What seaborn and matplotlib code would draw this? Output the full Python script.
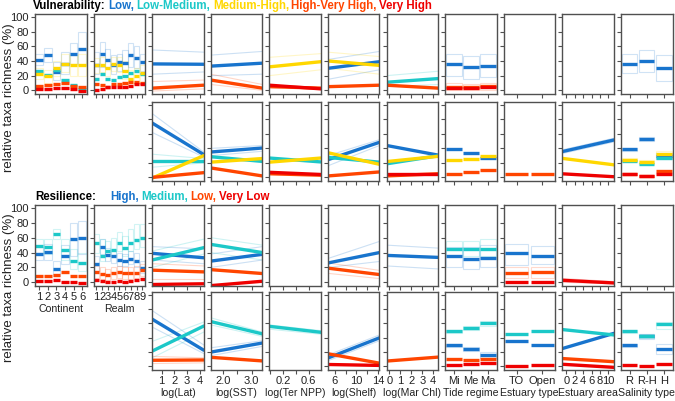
import numpy as np
import pandas as pd
import matplotlib
matplotlib.use("Agg")
import matplotlib.pyplot as plt
from matplotlib.patches import Rectangle
import seaborn as sns

sns.set_theme(style="ticks")
plt.rcParams['font.family'] = ['Liberation Sans', 'DejaVu Sans']

# colours of the classes
BLUE, CYAN, GOLD, ORANGE, RED = "#1874CD", "#1CC8C8", "#FFD700", "#FF4500", "#EE0000"
COLORS = {'L': BLUE, 'LM': CYAN, 'MH': GOLD, 'HVH': ORANGE, 'VH': RED,
          'H': BLUE, 'M': CYAN, 'Lo': ORANGE, 'VL': RED}
ORDER = ['L', 'H', 'LM', 'M', 'MH', 'HVH', 'Lo', 'VH', 'VL']

# predictor axes
CONT_LABELS = ['1', '2', '3', '4', '5', '6']
REALM_LABELS = ['1', '2', '3', '4', '5', '6', '7', '8', '9']
TIDE_LABELS = ['Mi', 'Me', 'Ma']
ESTTYPE_LABELS = ['TO', 'Open']
SAL_LABELS = ['R', 'R-H', 'H']
LAT_RANGE = [0.25, 4.33]
LAT_TICKS, LAT_TL = [1, 2, 3, 4], ['1', '2', '3', '4']
SST_RANGE = [1.59, 3.37]
SST_TICKS, SST_TL = [2.0, 2.5, 3.0], ['2.0', '', '3.0']
NPP_RANGE = [-0.01, 0.79]
NPP_TICKS, NPP_TL = [0.0, 0.2, 0.4, 0.6], ['', '0.2', '', '0.6']
SHELF_RANGE = [4.8, 14.2]
SHELF_TICKS, SHELF_TL = [6, 8, 10, 12, 14], ['6', '', '10', '', '14']
CHL_RANGE = [-0.25, 4.45]
CHL_TICKS, CHL_TL = [0, 1, 2, 3, 4], ['0', '1', '2', '3', '4']
AREA_RANGE = [-0.9, 11.3]
AREA_TICKS, AREA_TL = [0, 2, 4, 6, 8, 10], ['0', '2', '4', '6', '8', '10']

# ---- Vulnerability, upper row ----
v1_cont = {'L': [42, 48, 25, 36, 50, 56.5], 'LM': [27, 21.5, 28, 14, 7.5, 2],
           'MH': [22.5, 19, 30, 36, 34, 34], 'HVH': [6, 7.5, 9, 10, 6, 4],
           'VH': [2, 2, 3, 3, 2, -0.5]}
v1_cont_ci = {'L': ([34, 38, 14, 22, 36, 34], [50, 58, 38, 52, 65, 79]),
              'MH': ([15, 10, 20, 25, 20, 20], [30, 28, 40, 50, 48, 50])}
v1_realm = {'L': [35, 50, 42, 34, 38, 37, 47.5, 43.5, 38.5],
            'LM': [16, 22, 15, 14, 18, 20, 24, 26, 22],
            'MH': [34, 35, 30, 36, 35, 27, 16, 19, 23],
            'HVH': [8, 7, 5, 9, 8, 10, 12, 12, 10],
            'VH': [1, 2, 4, 5, 5, 5, 6, 8, 8]}
v1_realm_ci = {'L': ([22, 32, 30, 22, 26, 26, 32, 30, 26], [52, 66, 56, 48, 50, 55, 65, 60, 50]),
               'MH': ([24, 25, 20, 26, 25, 15, 6, 8, 12], [44, 46, 40, 46, 45, 40, 28, 30, 34])}
v1_lat = {'L': [36, 35.5], 'HVH': [3, 7]}
v1_lat_ci = {'L': ([22, 25], [55, 52]), 'HVH': ([-1, 2], [12, 14])}
v1_sst = {'L': [33, 37], 'HVH': [14, 3]}
v1_sst_ci = {'L': ([20, 22], [48, 53]), 'HVH': ([8, 0], [22, 8])}
v1_npp = {'MH': [32, 39], 'HVH': [5, 3], 'VH': [7, 2]}
v1_npp_ci = {'MH': ([20, 28], [45, 50])}
v1_shelf = {'L': [30, 39], 'MH': [40, 34], 'HVH': [5, 7]}
v1_shelf_ci = {'L': ([15, 28], [42, 53]), 'MH': ([30, 22], [52, 46])}
v1_chl = {'LM': [11, 16], 'HVH': [7, 3]}
v1_chl_ci = {'LM': ([5, 8], [20, 26])}
v1_tide = {'L': [35.3, 31.2, 33.5], 'HVH': [5, 5, 6], 'VH': [3, 3, 4]}
v1_tide_ci = {'L': ([20, 16, 18.5], [50, 47, 50]), 'HVH': ([0, 0, 0], [10, 9, 10])}
v1_esttype = {}
v1_area = {}
v1_sal = {'L': [35.3, 40.3, 30]}
v1_sal_ci = {'L': ([24, 25, 13], [50, 55.6, 47.5])}

# ---- Vulnerability, lower row ----
v2_lat = {'L': [75, 31.5], 'LM': [23, 23], 'MH': [-1, 30], 'HVH': [0, 6.5]}
v2_lat_ci = {'L': ([62, 28], [88, 35]), 'LM': ([14, 20], [32, 26])}
v2_sst = {'L': [35, 40.5], 'LM': [28.5, 22], 'MH': [21, 26], 'HVH': [13, 2]}
v2_sst_ci = {'L': ([30, 36], [40, 44])}
v2_npp = {'LM': [26.7, 21.3], 'MH': [21, 26.7], 'HVH': [5, 3], 'VH': [7, 4]}
v2_shelf = {'L': [24.4, 48.4], 'LM': [27.5, 21], 'MH': [34, 18], 'HVH': [2, 7.5]}
v2_shelf_ci = {'L': ([16, 44], [30, 52])}
v2_chl = {'L': [44, 30.7], 'LM': [18.7, 29.8], 'MH': [21.8, 29], 'HVH': [2, 5], 'VH': [4, 4]}
v2_tide = {'L': [38.7, 33.3, 26.2], 'MH': [24.4, 25.8, 29.8], 'HVH': [5.3, 7.1, 10.7]}
v2_esttype = {'HVH': [4, 5.3]}
v2_area = {'L': [35.6, 51.6], 'MH': [26.2, 17.3], 'VH': [4.9, 0.9]}
v2_area_ci = {'L': ([33, 49], [38, 54])}
v2_sal = {'L': [38.7, 53.3, 29.8], 'LM': [22.7, 18.7, 26.2], 'MH': [24.4, 21.3, 32.9],
          'HVH': [5.3, 2.2, 8.4], 'VH': [4, 2, 4]}
v2_sal_ci = {'L': ([36, 50, 26], [41, 56, 33]), 'MH': ([22, 19, 28], [27, 24, 36])}

# ---- Resilience, upper row ----
r1_cont = {'H': [38.5, 41, 17.5, 35.4, 58.7, 60], 'M': [49, 48, 65, 44, 29, 26.5],
           'Lo': [8.5, 8.5, 10, 14, 8.5, 8.5], 'VL': [2, 1.8, 3.6, 1, 0, -1.5]}
r1_cont_ci = {'H': ([30, 30, 8, 25, 35, 38], [48, 52, 28, 50, 80, 82]),
              'M': ([40, 38, 58, 30, 18, 15], [58, 58, 72, 58, 45, 40])}
r1_realm = {'H': [24.5, 48, 37, 35, 30, 29, 32, 29, 19.5],
            'M': [52.5, 36, 42, 44, 53, 45.5, 53, 56.5, 59],
            'Lo': [14, 11, 10, 12, 14, 12, 12, 13, 16],
            'VL': [3, 2, 1, 1, 2, 1, 2, 3, 5]}
r1_realm_ci = {'H': ([15, 38, 28, 26, 22, 22, 24, 20, 12], [35, 58, 46, 44, 40, 38, 42, 40, 28]),
               'M': ([40, 28, 35, 35, 42, 35, 42, 45, 48], [65, 58, 55, 60, 68, 62, 72, 78, 78]),
               'Lo': ([6, 4, 3, 5, 6, 5, 5, 6, 8], [22, 20, 18, 20, 22, 20, 20, 22, 24])}
r1_lat = {'H': [39, 33], 'M': [30, 46.6], 'Lo': [16.3, 14], 'VL': [-3, -2]}
r1_lat_ci = {'M': ([20, 38], [42, 58]), 'H': ([30, 25], [48, 45]), 'Lo': ([5, 5], [25, 22])}
r1_sst = {'H': [28.5, 37.6], 'M': [51, 40], 'Lo': [17, 11.8], 'VL': [-4.5, 1.4]}
r1_sst_ci = {'H': ([20, 30], [38, 48]), 'M': ([40, 30], [60, 50])}
r1_npp = {}
r1_shelf = {'H': [26, 40], 'Lo': [19, 10.4]}
r1_shelf_ci = {'H': ([20, 28], [32, 55]), 'Lo': ([12, 5], [26, 16])}
r1_chl = {'H': [36.2, 33.5]}
r1_chl_ci = {'H': ([22, 18], [50, 46])}
r1_tide = {'H': [35.7, 31.7, 32.6], 'M': [44.3, 44.3, 44.3]}
r1_tide_ci = {'H': ([20, 18, 20], [48, 48, 50]), 'M': ([36, 36, 36], [56, 56, 58])}
r1_esttype = {'H': [39, 34.8], 'Lo': [13, 13.8], 'VL': [0, 0.9]}
r1_esttype_ci = {'H': ([22.6, 24], [52, 49]), 'Lo': ([6, 6], [20, 21])}
r1_area = {'VL': [2.7, -0.9]}
r1_area_ci = {'VL': ([0, -2], [5, 1])}
r1_sal = {}

# ---- Resilience, lower row ----
r2_lat = {'H': [66, 22.7], 'M': [21.4, 56.4], 'Lo': [8.6, 9]}
r2_lat_ci = {'H': ([55, 18], [78, 30]), 'M': ([12, 48], [35, 62]), 'Lo': ([4, 5], [14, 12])}
r2_sst = {'H': [20, 32.7], 'M': [62.7, 45.5], 'Lo': [12.7, 7.7]}
r2_sst_ci = {'M': ([58, 42], [68, 48]), 'H': ([15, 28], [26, 36])}
r2_npp = {'M': [56, 47.7]}
r2_npp_ci = {'M': ([52, 45], [58, 50])}
r2_shelf = {'H': [11.8, 40], 'Lo': [17.7, 4.5], 'VL': [2.7, 1.4]}
r2_shelf_ci = {'H': ([8, 36], [16, 44])}
r2_chl = {'Lo': [7.5, 13]}
r2_tide = {'H': [29.5, 24.2, 16.3], 'M': [49, 53.7, 60.3], 'Lo': [10.6, 8.8, 10.6], 'VL': [2.2, 4, 5.3]}
r2_tide_ci = {'M': ([47, 51, 57], [51, 56, 63]), 'H': ([27, 22, 12], [32, 27, 20])}
r2_esttype = {'H': [35.2, 29.5], 'M': [45, 49.8], 'VL': [0.9, 1.3]}
r2_area = {'H': [25, 46.2], 'M': [51.5, 44], 'Lo': [11, 6.6], 'VL': [3, -1.3]}
r2_sal = {'H': [29.5, 41.9, 25], 'M': [49, 43, 59.4], 'VL': [2.2, 0.9, 4]}
r2_sal_ci = {'M': ([47, 40, 52], [51, 46, 62]), 'H': ([27, 39, 18], [32, 45, 32])}

# column definitions: (kind, ticks or labels, tick labels, range, xlabel)
COLUMNS = [
    ('cat', CONT_LABELS, None, None, 'Continent'),
    ('cat', REALM_LABELS, None, None, 'Realm'),
    ('num', LAT_TICKS, LAT_TL, LAT_RANGE, 'log(Lat)'),
    ('num', SST_TICKS, SST_TL, SST_RANGE, 'log(SST)'),
    ('num', NPP_TICKS, NPP_TL, NPP_RANGE, 'log(Ter NPP)'),
    ('num', SHELF_TICKS, SHELF_TL, SHELF_RANGE, 'log(Shelf)'),
    ('num', CHL_TICKS, CHL_TL, CHL_RANGE, 'log(Mar Chl)'),
    ('cat', TIDE_LABELS, None, None, 'Tide regime'),
    ('cat', ESTTYPE_LABELS, None, None, 'Estuary type'),
    ('num', AREA_TICKS, AREA_TL, AREA_RANGE, 'Estuary area'),
    ('cat', SAL_LABELS, None, None, 'Salinity type'),
]

ROW_DATA = [
    [(v1_cont, v1_cont_ci), (v1_realm, v1_realm_ci), (v1_lat, v1_lat_ci), (v1_sst, v1_sst_ci),
     (v1_npp, v1_npp_ci), (v1_shelf, v1_shelf_ci), (v1_chl, v1_chl_ci), (v1_tide, v1_tide_ci),
     (v1_esttype, {}), (v1_area, {}), (v1_sal, v1_sal_ci)],
    [None, None, (v2_lat, v2_lat_ci), (v2_sst, v2_sst_ci), (v2_npp, {}), (v2_shelf, v2_shelf_ci),
     (v2_chl, {}), (v2_tide, {}), (v2_esttype, {}), (v2_area, v2_area_ci), (v2_sal, v2_sal_ci)],
    [(r1_cont, r1_cont_ci), (r1_realm, r1_realm_ci), (r1_lat, r1_lat_ci), (r1_sst, r1_sst_ci),
     (r1_npp, {}), (r1_shelf, r1_shelf_ci), (r1_chl, r1_chl_ci), (r1_tide, r1_tide_ci),
     (r1_esttype, r1_esttype_ci), (r1_area, r1_area_ci), (r1_sal, {})],
    [None, None, (r2_lat, r2_lat_ci), (r2_sst, r2_sst_ci), (r2_npp, r2_npp_ci), (r2_shelf, r2_shelf_ci),
     (r2_chl, {}), (r2_tide, r2_tide_ci), (r2_esttype, {}), (r2_area, {}), (r2_sal, r2_sal_ci)],
]

W, H = 675, 401
fig = plt.figure(figsize=(W / 100, H / 100), dpi=100)
ROWS_PX = [(14, 94), (102, 181), (205, 286), (292, 370)]
LEFT0, STEP, PW = 35, 58.6, 51.5
FRAME = "#505050"


def draw_panel(ax, col, means, cis):
    kind, ticks, tls, rng, _ = col
    if kind == 'cat':
        pos = np.arange(1, len(ticks) + 1)
        for k in ORDER:
            if k in cis:
                lo, hi = cis[k]
                for p, a, b in zip(pos, lo, hi):
                    ax.add_patch(Rectangle((p - 0.45, a), 0.9, b - a, fill=False,
                                           ec=COLORS[k], alpha=0.2, lw=0.8))
        for k in ORDER:
            if k in means:
                ax.hlines(means[k], pos - 0.45, pos + 0.45, color=COLORS[k], lw=2.4)
        ax.set_xlim(0.5, len(ticks) + 0.5)
        ax.set_xticks(pos)
        ax.set_xticklabels(ticks)
    else:
        for k in ORDER:
            if k in cis:
                for b in cis[k]:
                    sns.lineplot(x=rng, y=b, color=COLORS[k], alpha=0.22, lw=0.8, ax=ax)
        for k in ORDER:
            if k in means:
                sns.lineplot(x=rng, y=means[k], color=COLORS[k], lw=2.4, ax=ax)
        ax.set_xlim(rng)
        ax.set_xticks(ticks)
        ax.set_xticklabels(tls)
    ax.set_xlabel('')
    ax.set_ylabel('')


for r, (top, bot) in enumerate(ROWS_PX):
    for c, col in enumerate(COLUMNS):
        d = ROW_DATA[r][c]
        if d is None:
            continue
        left = LEFT0 + STEP * c
        ax = fig.add_axes([left / W, 1 - bot / H, PW / W, (bot - top) / H])
        draw_panel(ax, col, d[0], d[1])
        ax.set_ylim(-5, 104)
        ax.set_yticks(range(0, 101, 20))
        for s in ax.spines.values():
            s.set_color(FRAME)
            s.set_linewidth(1.0)
        ax.tick_params(direction='out', length=3, width=0.8, color=FRAME,
                       labelsize=8, pad=1.5, labelcolor='#222222')
        show_y = c == 0 and r in (0, 2)
        show_x = (r == 3) or (r == 2 and c < 2)
        ax.tick_params(labelleft=show_y, labelbottom=show_x)
        if show_x:
            ax.set_xlabel(col[4], fontsize=7.6, labelpad=1, color='#222222')

# y labels
for yc in ((14 + 181) / 2, (205 + 370) / 2):
    fig.text(9 / W, 1 - yc / H, 'relative taxa richness (%)', rotation=90,
             ha='center', va='center', fontsize=9.5, color='#222222')

# multicoloured titles
renderer = fig.canvas.get_renderer()


def colored_title(pieces, x0, y, gaps):
    x = x0
    for (s, colr), g in zip(pieces, gaps):
        t = fig.text(x / W, 1 - y / H, s, color=colr, fontsize=8.3,
                     fontweight='bold', va='center', ha='left')
        bb = t.get_window_extent(renderer)
        x = bb.x1 + g


colored_title([('Vulnerability:', 'black'), ('Low,', BLUE), ('Low-Medium,', CYAN),
               ('Medium-High,', GOLD), ('High-Very High,', ORANGE), ('Very High', RED)],
              33, 6, [2.5, 2.5, 2.5, 2.5, 2.5, 0])
colored_title([('Resilience:', 'black'), ('High,', BLUE), ('Medium,', CYAN),
               ('Low,', ORANGE), ('Very Low', RED)],
              35, 197, [14, 2.5, 2.5, 2.5, 0])

fig.savefig('out.png', dpi=100)
